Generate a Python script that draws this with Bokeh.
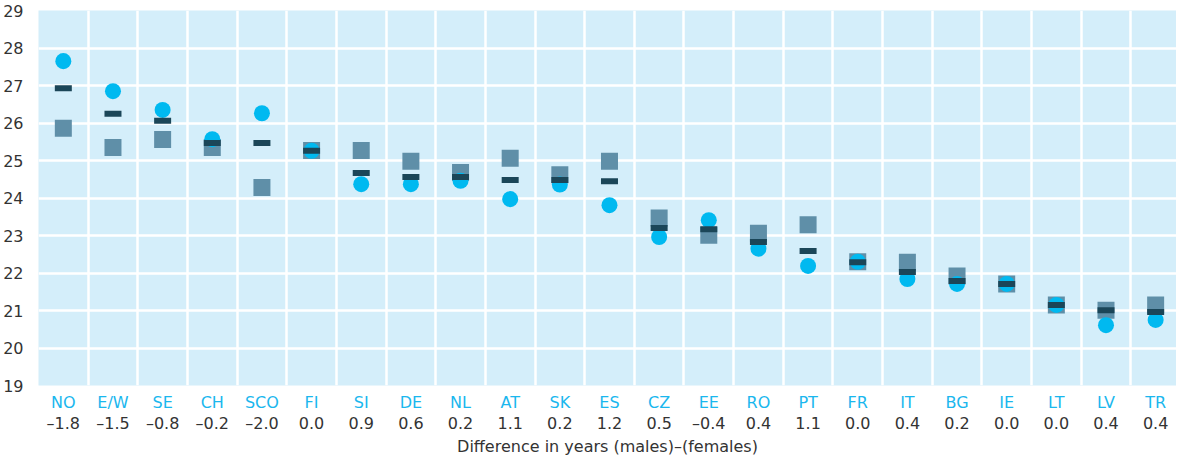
from bokeh.plotting import figure
from bokeh.models import FixedTicker, LinearAxis, Range1d, ColumnDataSource
from bokeh.embed import file_html
from bokeh.resources import INLINE

codes = ["NO", "E/W", "SE", "CH", "SCO", "FI", "SI", "DE", "NL", "AT", "SK", "ES",
         "CZ", "EE", "RO", "PT", "FR", "IT", "BG", "IE", "LT", "LV", "TR"]
diff_labels = ["–1.8", "–1.5", "–0.8", "–0.2", "–2.0", "0.0", "0.9", "0.6", "0.2", "1.1", "0.2", "1.2",
               "0.5", "–0.4", "0.4", "1.1", "0.0", "0.4", "0.2", "0.0", "0.0", "0.4", "0.4"]
females = [27.65, 26.85, 26.35, 25.57, 26.26, 25.26, 24.37, 24.37, 24.46, 23.97, 24.36, 23.81,
           22.96, 23.41, 22.65, 22.19, 22.30, 21.84, 21.71, 21.71, 21.15, 20.61, 20.75]
males = [25.86, 25.35, 25.56, 25.35, 24.28, 25.27, 25.27, 24.98, 24.68, 25.06, 24.62, 24.98,
         23.47, 23.01, 23.06, 23.29, 22.30, 22.29, 21.92, 21.71, 21.15, 21.01, 21.15]
overall = [26.93, 26.25, 26.06, 25.47, 25.47, 25.26, 24.67, 24.56, 24.56, 24.48, 24.48, 24.45,
           23.20, 23.17, 22.83, 22.59, 22.29, 22.03, 21.79, 21.71, 21.15, 21.01, 20.96]
y_ticks = list(range(19, 30))
x_title = "Difference in years (males)–(females)"

FONT = "DejaVu Sans"
xs = list(range(len(codes)))
src = ColumnDataSource(dict(x=xs, females=females, males=males, overall=overall))

p = figure(width=1176, height=458, output_backend="svg", toolbar_location=None,
           x_range=Range1d(-0.5, 22.42), y_range=Range1d(19, 29),
           background_fill_color="#d4eefa", border_fill_color="white",
           min_border_left=30, min_border_right=0, min_border_top=10, min_border_bottom=0)
p.outline_line_color = None

p.xgrid.ticker = FixedTicker(ticks=[i + 0.5 for i in range(len(codes) - 1)])
p.ygrid.ticker = FixedTicker(ticks=y_ticks)
for g in (p.xgrid, p.ygrid):
    g.grid_line_color = "white"
    g.grid_line_width = 2.5
    g.grid_line_alpha = 1

# y axis
yax = p.yaxis[0]
yax.ticker = FixedTicker(ticks=y_ticks)
yax.axis_line_color = None
yax.major_tick_line_color = None
yax.minor_tick_line_color = None
yax.major_label_text_font = FONT
yax.major_label_text_font_size = "16px"
yax.major_label_text_color = "#333333"
yax.major_label_standoff = 9

# x axis: country codes
xax = p.xaxis[0]
xax.ticker = FixedTicker(ticks=xs)
xax.major_label_overrides = {i: c for i, c in enumerate(codes)}
xax.axis_line_color = None
xax.major_tick_line_color = None
xax.minor_tick_line_color = None
xax.major_label_text_font = FONT
xax.major_label_text_font_size = "16px"
xax.major_label_text_color = "#1ab7ee"
xax.major_label_standoff = 1

# second x axis: differences + axis title
ax2 = LinearAxis(ticker=FixedTicker(ticks=xs),
                 major_label_overrides={i: d for i, d in enumerate(diff_labels)},
                 axis_line_color=None, major_tick_line_color=None, minor_tick_line_color=None,
                 major_label_text_font=FONT, major_label_text_font_size="16px",
                 major_label_text_color="#333333", major_label_standoff=-7,
                 axis_label=x_title, axis_label_standoff=1,
                 axis_label_text_font=FONT, axis_label_text_font_size="16px",
                 axis_label_text_font_style="normal", axis_label_text_color="#333333")
p.add_layout(ax2, "below")

p.scatter("x", "males", source=src, marker="square", size=17,
          fill_color="#5f8fa8", line_color=None)
p.scatter("x", "females", source=src, marker="circle", size=16,
          fill_color="#00b9f0", line_color=None)
p.rect("x", "overall", source=src, width=17, height=6, width_units="screen",
       height_units="screen", fill_color="#1b4658", line_color=None)

open("out.html", "w").write(file_html(p, INLINE))
